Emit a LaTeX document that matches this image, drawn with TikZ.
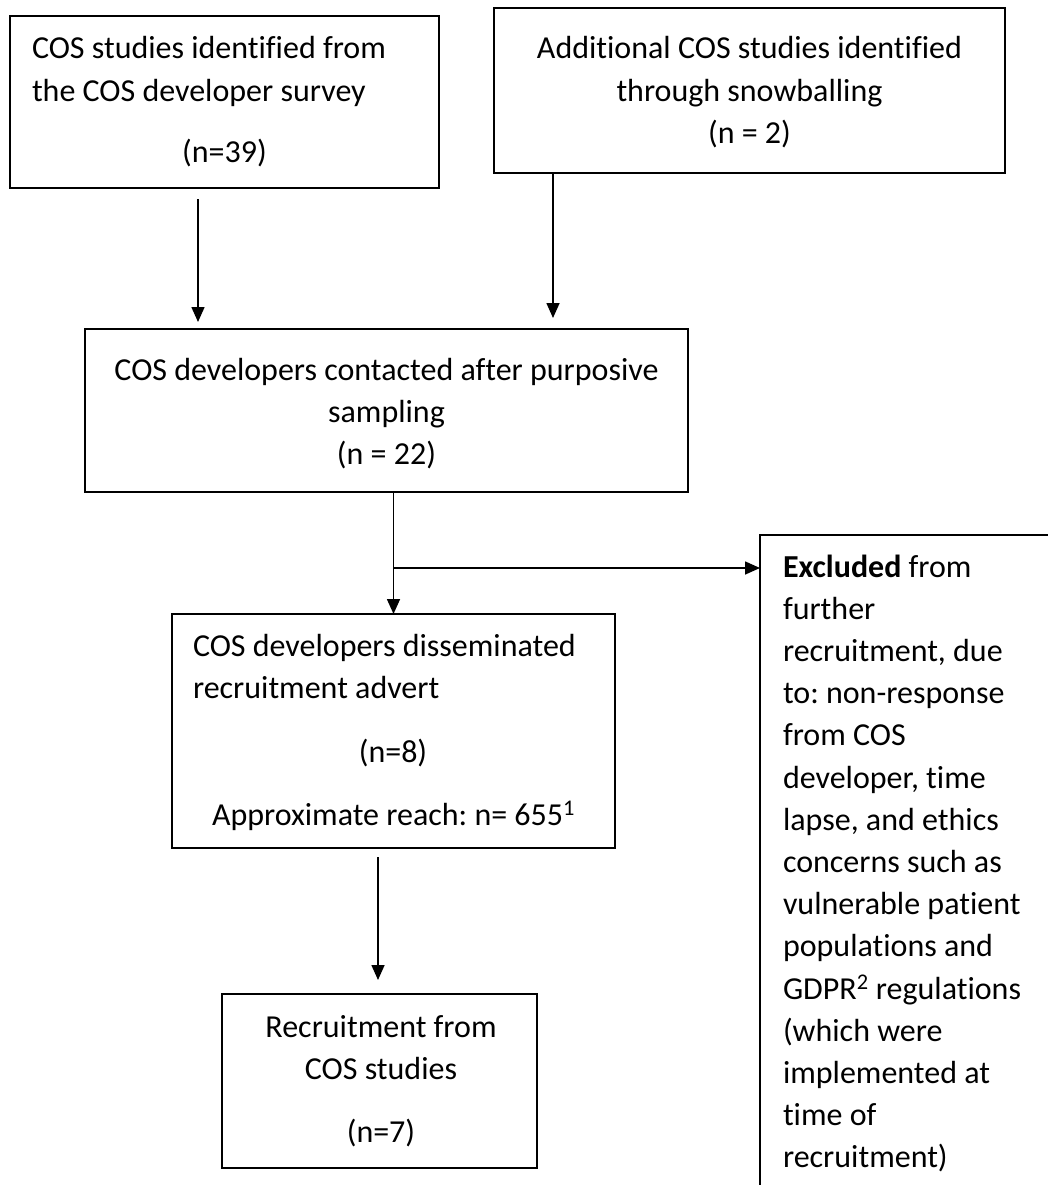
\documentclass[tikz,border=0pt]{standalone}
\usepackage{fontspec}
\setmainfont{Carlito}[Ligatures={NoCommon}]
\usetikzlibrary{arrows.meta}
\frenchspacing
\newcommand{\mycl}[1]{\begin{tabular}[t]{@{}c@{}}#1\end{tabular}}
\newcommand{\myll}[1]{\begin{tabular}[t]{@{}l@{}}#1\end{tabular}}
\tikzset{
  boxnode/.style={draw, line width=2.5pt, inner sep=0pt, outer sep=0pt},
  txt/.style={anchor=base, inner sep=0pt, outer sep=0pt, font=\fontsize{32}{42.2}\selectfont\frenchspacing},
  txtl/.style={txt, anchor=base west},
  arr/.style={line width=1.6pt, -{Triangle[length=15pt,width=13pt]}}
}
\begin{document}
\begin{tikzpicture}[x=1pt,y=-1pt]
\useasboundingbox (0,0) rectangle (1047,1185);
% boxes
\node[boxnode, minimum width=429pt, minimum height=172pt] (b1) at (224.5,102) {};
\node[boxnode, minimum width=511pt, minimum height=165pt] (b2) at (749.5,90.5) {};
\node[boxnode, minimum width=603pt, minimum height=163pt] (b3) at (386.5,410.5) {};
\node[boxnode, minimum width=443pt, minimum height=234pt] (b4) at (393.5,731) {};
\node[boxnode, minimum width=315pt, minimum height=174pt] (b5) at (379.5,1081) {};
\node[boxnode, minimum width=320pt, minimum height=700pt] (b6) at (920,885) {};
% texts
\node[txtl] (t1) at (32,59) {\myll{COS studies identified from\\the COS developer survey}};
\node[txt] (t1n) at (224.5,163) {(n=39)};
\node[txt] (t2) at (749.5,59) {\mycl{Additional COS studies identified\\through snowballing\\(n = 2)}};
\node[txt] (t3) at (386.5,380) {\mycl{COS developers contacted after purposive\\sampling\\(n = 22)}};
\node[txtl] (t4) at (193,656) {\myll{COS developers disseminated\\recruitment advert}};
\node[txt] (t4n) at (393,762) {(n=8)};
\node[txt] (t4r) at (393.5,825) {Approximate reach: n= 655\textsuperscript{1}};
\node[txt] (t5) at (381,1037) {\mycl{Recruitment from\\COS studies}};
\node[txt] (t5n) at (381,1142) {(n=7)};
\node[txtl] (t6) at (783,577) {\myll{\textbf{Excluded} from\\further\\recruitment, due\\to: non-response\\from COS\\developer, time\\lapse, and ethics\\concerns such as\\vulnerable patient\\populations and\\GDPR\textsuperscript{2} regulations\\(which were\\implemented at\\time of\\recruitment)}};
% connectors
\coordinate (a1s) at (198,199);
\coordinate (a1e) at (198,322);
\draw[arr] (a1s) -- (a1e);
\coordinate (a2e) at (553,318);
\draw[arr] (b2.south -| a2e) -- (a2e);
\draw[arr] (b3.south -| b4.north) -- (b4.north);
\coordinate (br) at (b4.north |- 0,568);
\draw[arr] (br) -- (br -| b6.west);
\coordinate (a4s) at (378,857);
\coordinate (a4e) at (378,980);
\draw[arr] (a4s) -- (a4e);
\end{tikzpicture}
\end{document}
